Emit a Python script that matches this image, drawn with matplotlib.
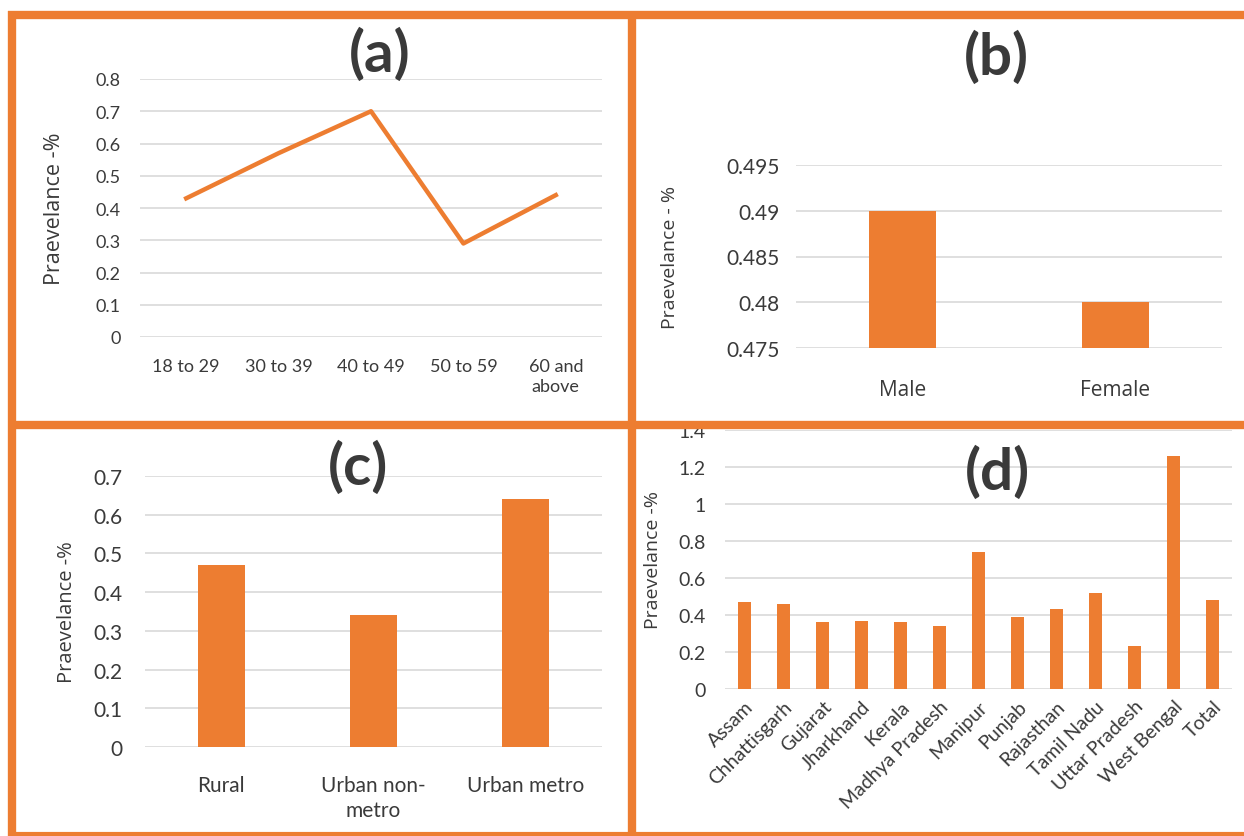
import matplotlib.pyplot as plt
from matplotlib.lines import Line2D

# data
age_groups = ['18 to 29', '30 to 39', '40 to 49', '50 to 59', '60 and\nabove']
age_prev = [0.43, 0.57, 0.70, 0.29, 0.44]

genders = ['Male', 'Female']
gender_prev = [0.49, 0.48]

areas = ['Rural', 'Urban non-\nmetro', 'Urban metro']
area_prev = [0.47, 0.34, 0.64]

states = ['Assam', 'Chhattisgarh', 'Gujarat', 'Jharkhand', 'Kerala', 'Madhya Pradesh',
          'Manipur', 'Punjab', 'Rajasthan', 'Tamil Nadu', 'Uttar Pradesh', 'West Bengal', 'Total']
state_prev = [0.47, 0.46, 0.36, 0.37, 0.36, 0.34, 0.74, 0.39, 0.43, 0.52, 0.23, 1.26, 0.48]

ORANGE = '#ED7D31'
GRID = '#D9D9D9'
TXT = '#3a3a3a'

plt.rcParams['font.family'] = ['Lato', 'DejaVu Sans']

W, H = 1244, 837
fig = plt.figure(figsize=(W / 100, H / 100), dpi=100)


def box(x0, y0, x1, y1):
    # pixel box (top-left origin) -> figure fractions
    return [x0 / W, 1 - y1 / H, (x1 - x0) / W, (y1 - y0) / H]


def style(ax, fs):
    for s in ax.spines.values():
        s.set_visible(False)
    ax.yaxis.grid(True, color=GRID, lw=1.2)
    ax.set_axisbelow(True)
    ax.tick_params(length=0, labelsize=fs, labelcolor=TXT)


# (a) age groups
ax1 = fig.add_axes(box(140, 80, 602, 338))
x = range(len(age_groups))
ax1.plot(x, age_prev, color=ORANGE, lw=3.2)
ax1.set_xlim(-0.5, len(age_groups) - 0.5)
ax1.set_ylim(0, 0.8)
ax1.set_yticks([i / 10 for i in range(9)])
ax1.set_yticklabels(['0'] + ['0.%d' % i for i in range(1, 9)])
ax1.set_xticks(list(x))
ax1.set_xticklabels(age_groups, linespacing=1.3)
style(ax1, 13)
ax1.tick_params(axis='x', pad=15)
ax1.tick_params(axis='y', pad=14)
ax1.set_ylabel('Praevelance -%', fontsize=15.5, color=TXT, family='Open Sans', labelpad=22)

# (b) gender
ax2 = fig.add_axes(box(796, 166, 1222, 349))
ax2.bar(range(len(genders)), [v - 0.475 for v in gender_prev], bottom=0.475,
        width=0.31, color=ORANGE)
ax2.set_xlim(-0.5, len(genders) - 0.5)
ax2.set_ylim(0.475, 0.495)
ax2.set_yticks([0.475, 0.48, 0.485, 0.49, 0.495])
ax2.set_yticklabels(['0.475', '0.48', '0.485', '0.49', '0.495'])
ax2.set_xticks(range(len(genders)))
ax2.set_xticklabels(genders, family='Open Sans', fontsize=15)
style(ax2, 15)
ax2.tick_params(axis='x', pad=22)
ax2.tick_params(axis='y', pad=12)
ax2.set_ylabel('Praevelance - %', fontsize=14, color=TXT, family='Open Sans', labelpad=34)

# (c) area type
ax3 = fig.add_axes(box(145, 477, 602, 748))
ax3.bar(range(len(areas)), area_prev, width=0.31, color=ORANGE)
ax3.set_xlim(-0.5, len(areas) - 0.5)
ax3.set_ylim(0, 0.7)
ax3.set_yticks([i / 10 for i in range(8)])
ax3.set_yticklabels(['0'] + ['0.%d' % i for i in range(1, 8)])
ax3.set_xticks(range(len(areas)))
ax3.set_xticklabels(areas, linespacing=1.3)
style(ax3, 15)
ax3.tick_params(axis='x', pad=20)
ax3.tick_params(axis='y', pad=16)
ax3.set_ylabel('Praevelance -%', fontsize=14.5, color=TXT, family='Open Sans', labelpad=12)

# (d) states
ax4 = fig.add_axes(box(725, 431, 1232, 690))
ax4.bar(range(len(states)), state_prev, width=0.33, color=ORANGE)
ax4.set_xlim(-0.5, len(states) - 0.5)
ax4.set_ylim(0, 1.4)
ax4.set_yticks([0, 0.2, 0.4, 0.6, 0.8, 1.0, 1.2, 1.4])
ax4.set_yticklabels(['0', '0.2', '0.4', '0.6', '0.8', '1', '1.2', '1.4'])
ax4.set_xticks(range(len(states)))
ax4.set_xticklabels(states, rotation=45, ha='right', rotation_mode='anchor')
style(ax4, 14)
ax4.tick_params(axis='x', pad=6, labelsize=14)
ax4.tick_params(axis='y', pad=14)
ax4.set_ylabel('Praevelance -%', fontsize=14, color=TXT, family='Open Sans', labelpad=12)

# panel titles
for lab, px, py in [('(a)', 380, 55), ('(b)', 996, 58), ('(c)', 358, 468), ('(d)', 997, 473)]:
    fig.text(px / W, 1 - py / H, lab, fontsize=42, fontweight='bold', color=TXT,
             ha='center', va='center', zorder=5)

# orange frame lines
def fline(x0, y0, x1, y1, lw):
    fig.add_artist(Line2D([x0 / W, x1 / W], [1 - y0 / H, 1 - y1 / H],
                          color=ORANGE, lw=lw, zorder=10, solid_capstyle='butt'))

fline(8, 16, 1244, 16, 6)
fline(12, 12, 12, 837, 6)
fline(632, 12, 632, 837, 6)
fline(8, 426, 1244, 426, 6)
fline(8, 835, 1244, 835, 3)

fig.savefig('out.png', dpi=100, facecolor='white')
